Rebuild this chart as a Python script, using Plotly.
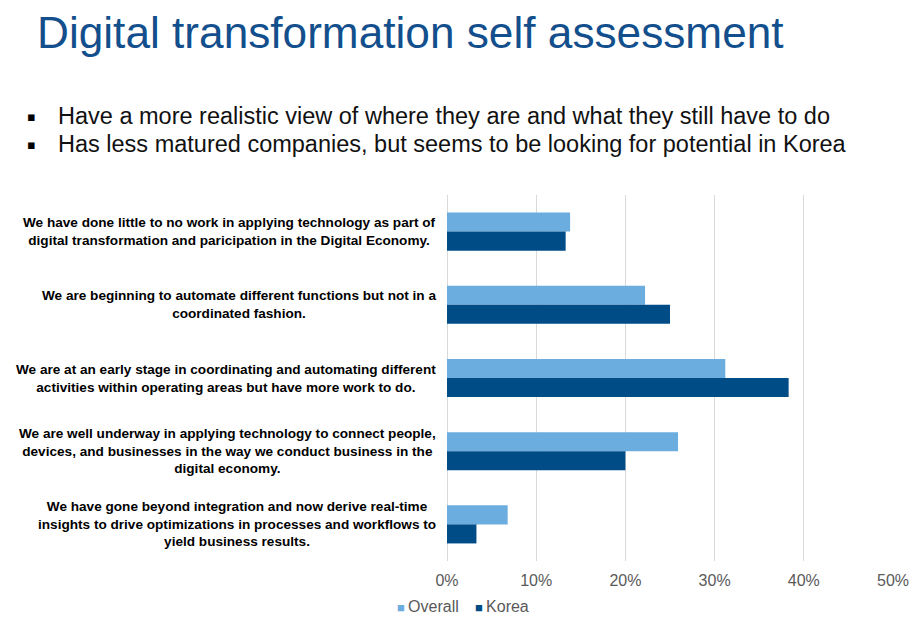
import plotly.graph_objects as go

categories = [
    "We have done little to no work in applying technology as part of<br>digital transformation and paricipation in the Digital Economy.",
    "We are beginning to automate different functions but not in a<br>coordinated fashion.",
    "We are at an early stage in coordinating and automating different<br>activities within operating areas but have more work to do.",
    "We are well underway in applying technology to connect people,<br>devices, and businesses in the way we conduct business in the<br>digital economy.",
    "We have gone beyond integration and now derive real-time<br>insights to drive optimizations in processes and workflows to<br>yield business results.",
]
overall = [0.138, 0.222, 0.312, 0.259, 0.068]
korea = [0.133, 0.250, 0.383, 0.200, 0.033]
tick_vals = [0, 0.1, 0.2, 0.3, 0.4, 0.5]
tick_text = ["0%", "10%", "20%", "30%", "40%", "50%"]
series_names = ["Overall", "Korea"]
series_colors = ["#6CADDF", "#004C87"]

title = "Digital transformation self assessment"
bullets = [
    "Have a more realistic view of where they are and what they still have to do",
    "Has less matured companies, but seems to be looking for potential in Korea",
]

W, H = 924, 618
L, R, T, B = 447, 31, 195, 57
PW, PH = W - L - R, H - T - B

def px_x(x):
    return (x - L) / PW

def px_y(y):
    return (H - B - y) / PH

FONT = "Liberation Sans, Arial, sans-serif"

fig = go.Figure()
for name, vals, col in zip(series_names, [overall, korea], series_colors):
    fig.add_trace(go.Bar(y=list(range(len(categories))), x=vals, orientation="h",
                         name=name, marker=dict(color=col, line=dict(width=0))))

annotations = []
for i, c in enumerate(categories):
    annotations.append(dict(
        text=c, xref="paper", yref="y", x=0, y=i, xanchor="right", yanchor="middle",
        xshift=-9, align="center", showarrow=False,
        font=dict(family=FONT, size=13.6, color="#000000", weight="bold"),
    ))

annotations.append(dict(
    text=title, xref="paper", yref="paper", x=px_x(35), y=px_y(33),
    xanchor="left", yanchor="middle", showarrow=False,
    font=dict(family=FONT, size=44.2, color="#134F8C"),
))
for k, btxt in enumerate(bullets):
    yc = 116 + k * 28
    annotations.append(dict(
        text="\u25aa", xref="paper", yref="paper", x=px_x(31), y=px_y(yc),
        xanchor="center", yanchor="middle", showarrow=False,
        font=dict(family="DejaVu Sans", size=13, color="#000000"),
    ))
    annotations.append(dict(
        text=btxt, xref="paper", yref="paper", x=px_x(56), y=px_y(yc),
        xanchor="left", yanchor="middle", showarrow=False,
        font=dict(family=FONT, size=23.5, color="#111111"),
    ))

# legend drawn as annotations for compact square markers
leg_x = [395, 473]
for name, col, lx in zip(series_names, series_colors, leg_x):
    annotations.append(dict(
        text=f"<span style='color:{col};font-size:13px'>\u25a0</span>\u2009{name}",
        xref="paper", yref="paper", x=px_x(lx), y=px_y(606),
        xanchor="left", yanchor="middle", showarrow=False,
        font=dict(family=FONT, size=16, color="#595959"),
    ))

fig.update_layout(
    width=W, height=H,
    margin=dict(l=L, r=R, t=T, b=B, pad=0, autoexpand=False),
    paper_bgcolor="white", plot_bgcolor="white",
    barmode="group", bargap=0.48, bargroupgap=0,
    showlegend=False,
    xaxis=dict(range=[0, 0.5], tickvals=tick_vals, ticktext=tick_text,
               showgrid=True, gridcolor="#D9D9D9", gridwidth=1,
               zeroline=True, zerolinecolor="#D9D9D9", zerolinewidth=1,
               showline=False, ticks="", ticklabelstandoff=8,
               tickfont=dict(family=FONT, size=16, color="#595959")),
    yaxis=dict(range=[len(categories) - 0.5, -0.5], showticklabels=False, showgrid=False,
               zeroline=False, showline=False, ticks=""),
    annotations=annotations,
    font=dict(family=FONT),
)

fig.write_html("out.html")
